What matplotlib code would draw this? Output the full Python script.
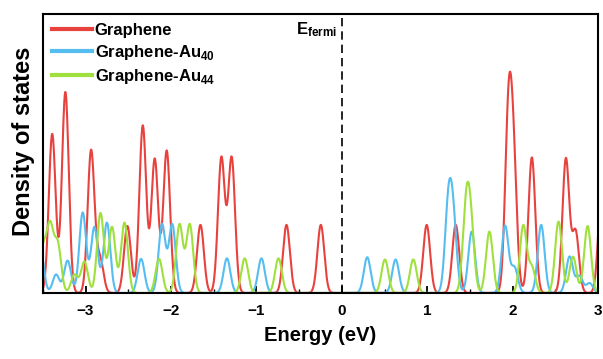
import numpy as np
import matplotlib.pyplot as plt

# peak positions (eV) and heights
gr_e = [-3.39, -3.236, -2.935, -2.83, -2.51, -2.33, -2.19, -2.05, -1.655, -1.41, -1.29,
        -0.648, -0.246, 0.993, 1.333, 1.95, 2.01, 2.224, 2.622, 2.735, 3.04]
gr_h = [0.57, 0.72, 0.51, 0.12, 0.24, 0.60, 0.48, 0.51, 0.244, 0.484, 0.484,
        0.244, 0.244, 0.244, 0.244, 0.61, 0.42, 0.486, 0.48, 0.22, 0.35]

au40_e = [-3.53, -3.345, -3.21, -3.033, -2.896, -2.75, -2.35, -2.105, -1.985, -1.345, -0.941,
          0.297, 0.629, 1.246, 1.305, 1.52, 1.91, 2.02, 2.333, 2.665, 2.78, 2.9]
au40_h = [0.16, 0.066, 0.116, 0.288, 0.236, 0.252, 0.122, 0.245, 0.245, 0.124, 0.124,
          0.128, 0.12, 0.30, 0.237, 0.22, 0.24, 0.09, 0.244, 0.13, 0.06, 0.035]

au44_e = [-3.5, -3.415, -3.325, -3.13, -3.013, -2.825, -2.69, -2.544, -2.14, -1.9, -1.78,
          -1.137, -0.742, 0.504, 0.836, 1.454, 1.51, 1.727, 2.123, 2.224, 2.536, 2.705, 2.876]
au44_h = [0.15, 0.23, 0.17, 0.065, 0.112, 0.286, 0.236, 0.252, 0.122, 0.245, 0.245,
          0.124, 0.124, 0.12, 0.12, 0.286, 0.22, 0.22, 0.24, 0.09, 0.256, 0.13, 0.24]

series = [("Graphene", gr_e, gr_h, "#e8423f"),
          (r"Graphene-Au$_\mathbf{40}$", au40_e, au40_h, "#55bdf0"),
          (r"Graphene-Au$_\mathbf{44}$", au44_e, au44_h, "#9fe03c")]

sigma = 0.04
energy = np.linspace(-3.6, 3.1, 3000)


def Broaden(centers, heights):
    dos = np.zeros_like(energy)
    for c, h in zip(centers, heights):
        dos += h*np.exp(-(energy - c)**2/(2*sigma**2))
    return dos


plt.rcParams['font.family'] = ['Liberation Sans', 'DejaVu Sans']
plt.rcParams['mathtext.fontset'] = 'custom'
plt.rcParams['mathtext.bf'] = 'Liberation Sans:bold'
plt.rcParams['mathtext.rm'] = 'Liberation Sans:bold'

fig = plt.figure(figsize=(6.03, 3.59), dpi=100)
ax = fig.add_axes([0.071, 0.184, 0.921, 0.777])

for label, e, h, col in series:
    ax.plot(energy, Broaden(e, h), color=col, lw=1.5, label=label)

ax.axvline(0, color='black', ls=(0, (5, 3)), lw=1.2)
ax.text(-0.06, 0.945, r'$\mathbf{E_{fermi}}$', ha='right', va='center', fontsize=12)

ax.set_xlim(-3.5, 3)
ax.set_ylim(0, 1)
ax.set_xticks([-3, -2, -1, 0, 1, 2, 3])
ax.set_xticks(np.arange(-3.5, 3.01, 0.5), minor=True)
ax.set_yticks([])
ax.tick_params(axis='x', direction='in', length=5, width=1.3, labelsize=11, pad=8)
ax.tick_params(axis='x', which='minor', direction='in', length=3, width=1.0)
for lab in ax.get_xticklabels():
    lab.set_fontweight('bold')
for sp in ax.spines.values():
    sp.set_linewidth(1.5)

ax.set_xlabel('Energy (eV)', fontsize=14.5, fontweight='bold', labelpad=6)
ax.set_ylabel('Density of states', fontsize=17, fontweight='bold')
ax.yaxis.set_label_coords(-0.014, 0.543)

leg = ax.legend(loc='upper left', bbox_to_anchor=(-0.004, 1.01), frameon=False,
                handlelength=2.4, handletextpad=0.15, labelspacing=0.3,
                borderaxespad=0.3, prop={'weight': 'bold', 'size': 12})
for line in leg.get_lines():
    line.set_linewidth(3)

fig.savefig('out.png', dpi=100)
